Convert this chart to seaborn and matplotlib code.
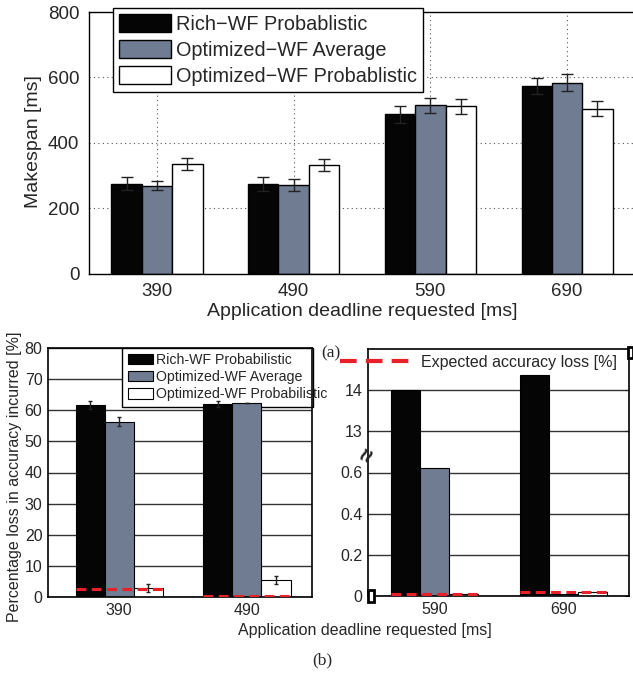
import numpy as np
import pandas as pd
import seaborn as sns
import matplotlib.pyplot as plt
from matplotlib.patches import Patch, Rectangle
from matplotlib.lines import Line2D
import matplotlib.transforms as mtransforms

sns.set_style('white')
plt.rcParams['font.family'] = ['Liberation Sans', 'DejaVu Sans']

# ---- data (a): makespan ----
deadlines_a = ['390', '490', '590', '690']
series_a = ['Rich\u2212WF Probablistic', 'Optimized\u2212WF Average', 'Optimized\u2212WF Probablistic']
rich_makespan = [274, 274, 487, 574]
avg_makespan = [269, 271, 514, 584]
prob_makespan = [335, 331, 511, 504]
rich_makespan_err = [20, 22, 26, 25]
avg_makespan_err = [15, 19, 24, 26]
prob_makespan_err = [17, 18, 24, 23]

# ---- data (b): accuracy loss ----
series_b = ['Rich-WF Probabilistic', 'Optimized-WF Average', 'Optimized-WF Probabilistic']
deadlines_low = ['390', '490']
rich_loss_low = [61.8, 62.0]
avg_loss_low = [56.3, 62.4]
prob_loss_low = [2.9, 5.6]
rich_loss_low_err = [1.3, 1.0]
avg_loss_low_err = [1.4, 0.0]
prob_loss_low_err = [1.3, 1.3]
expected_low = [2.7, 0.4]

deadlines_high = ['590', '690']
rich_loss_high = [14.0, 14.36]
avg_loss_high = [0.624, 0.01]
prob_loss_high = [0.01, 0.018]
expected_high = [0.01, 0.02]
break_ticks = [0, 0.2, 0.4, 0.6, 13, 14]

colors = ['#050505', '#6f7c92', '#ffffff']
red = '#e8202a'


def broken(v):
    # squeeze the broken y axis: 0..0.6 -> 0..3, 13..14 -> 4..5
    v = np.asarray(v, dtype=float)
    return np.where(v < 1, v / 0.2, v - 9)


def make_df(deadlines, series, cols):
    rows = []
    for s, vals in zip(series, cols):
        for d, v in zip(deadlines, vals):
            rows.append({'deadline': d, 'series': s, 'value': v})
    return pd.DataFrame(rows)


def bars_by_hue(ax, n_hue, n_x):
    ps = list(ax.patches)[:n_hue * n_x]
    return [ps[i * n_x:(i + 1) * n_x] for i in range(n_hue)]


fig = plt.figure(figsize=(6.33, 6.76), dpi=100)

# ================= (a) =================
ax1 = fig.add_axes([89 / 633, (676 - 273.5) / 676, 547 / 633, 261.5 / 676])
df_a = make_df(deadlines_a, series_a, [rich_makespan, avg_makespan, prob_makespan])
sns.barplot(data=df_a, x='deadline', y='value', hue='series', hue_order=series_a,
            palette=dict(zip(series_a, colors)), width=0.667, edgecolor='black',
            linewidth=1, errorbar=None, legend=False, saturation=1, ax=ax1)
groups = bars_by_hue(ax1, 3, 4)
for bars, errs in zip(groups, [rich_makespan_err, avg_makespan_err, prob_makespan_err]):
    xs = [p.get_x() + p.get_width() / 2 for p in bars]
    hs = [p.get_height() for p in bars]
    ax1.errorbar(xs, hs, yerr=errs, fmt='none', ecolor='#222222', elinewidth=1,
                 capsize=4, capthick=1, zorder=3)
ax1.set_xlim(-0.497, 3.504)
ax1.set_ylim(0, 800)
ax1.set_yticks([0, 200, 400, 600, 800])
ax1.set_axisbelow(True)
ax1.grid(True, linestyle=(0, (1, 3)), color='#555555', linewidth=0.8)
ax1.set_xlabel('')
ax1.set_ylabel('')
ax1.tick_params(direction='in', length=4, labelsize=13.5, pad=7)
for sp in ax1.spines.values():
    sp.set_color('black')
    sp.set_linewidth(1)
handles_a = [Patch(facecolor=c, edgecolor='black', linewidth=1) for c in colors]
leg = ax1.legend(handles_a, series_a, loc='upper left', bbox_to_anchor=(0.0439, 1.0153),
                 borderaxespad=0, fontsize=14.3, handlelength=2.6, handleheight=1.0,
                 labelspacing=0.33, borderpad=0.3, handletextpad=0.25,
                 fancybox=False, framealpha=1, edgecolor='black')
leg.get_frame().set_linewidth(1)
fig.text(362 / 633, 1 - 312 / 676, 'Application deadline requested [ms]', fontsize=14,
         ha='center', va='center')
fig.text(34 / 633, 1 - 142 / 676, 'Makespan [ms]', fontsize=14, rotation=90,
         ha='center', va='center')

# ================= (b) left =================
ax2 = fig.add_axes([48 / 633, (676 - 597) / 676, 264 / 633, 249 / 676])
df_low = make_df(deadlines_low, series_b, [rich_loss_low, avg_loss_low, prob_loss_low])
sns.barplot(data=df_low, x='deadline', y='value', hue='series', hue_order=series_b,
            palette=dict(zip(series_b, colors)), width=0.68, edgecolor='black',
            linewidth=0.8, errorbar=None, legend=False, saturation=1, ax=ax2)
groups = bars_by_hue(ax2, 3, 2)
for bars, errs in zip(groups, [rich_loss_low_err, avg_loss_low_err, prob_loss_low_err]):
    xs = [p.get_x() + p.get_width() / 2 for p in bars]
    hs = [p.get_height() for p in bars]
    ax2.errorbar(xs, hs, yerr=errs, fmt='none', ecolor='#222222', elinewidth=1,
                 capsize=1.5, capthick=1, zorder=3)
for i, e in enumerate(expected_low):
    x0 = groups[0][i].get_x()
    x1 = groups[2][i].get_x() + groups[2][i].get_width()
    ax2.hlines(e, x0, x1, colors=red, linewidth=2.2, linestyles=(0, (3.2, 1.8)), zorder=4)
ax2.set_xlim(-0.555, 1.508)
ax2.set_ylim(0, 80)
ax2.set_yticks(range(0, 81, 10))
ax2.set_axisbelow(True)
ax2.grid(True, axis='y', linestyle='-', color='#333333', linewidth=1)
ax2.set_xlabel('')
ax2.set_ylabel('')
ax2.tick_params(direction='in', length=3, labelsize=11.5, pad=4)
for sp in ax2.spines.values():
    sp.set_color('black')
    sp.set_linewidth(1.2)
ax2.add_patch(Rectangle((0.280, 0.763), 0.724, 0.237, transform=ax2.transAxes,
                        facecolor='white', edgecolor='black', linewidth=1,
                        zorder=0.9, clip_on=False))
handles_b = [Patch(facecolor=c, edgecolor='black', linewidth=0.8) for c in colors]
ax2.legend(handles_b, series_b, loc='upper left', bbox_to_anchor=(0.303, 0.98),
           borderaxespad=0, borderpad=0, fontsize=10.2, handlelength=1.76,
           handleheight=0.77, labelspacing=0.22, handletextpad=0.2, frameon=False)
fig.text(15 / 633, 1 - 477 / 676, 'Percentage loss in accuracy incurred [%]',
         fontsize=11.5, rotation=90, ha='center', va='center')

# ================= (b) right =================
ax3 = fig.add_axes([368 / 633, (676 - 596) / 676, 261 / 633, 247 / 676])
df_high = make_df(deadlines_high, series_b,
                  [broken(rich_loss_high), broken(avg_loss_high), broken(prob_loss_high)])
sns.barplot(data=df_high, x='deadline', y='value', hue='series', hue_order=series_b,
            palette=dict(zip(series_b, colors)), width=0.674, edgecolor='black',
            linewidth=0.8, errorbar=None, legend=False, saturation=1, ax=ax3)
groups = bars_by_hue(ax3, 3, 2)
for i, e in enumerate(broken(expected_high)):
    x0 = groups[0][i].get_x()
    x1 = groups[2][i].get_x() + groups[2][i].get_width()
    ax3.hlines(e, x0, x1, colors=red, linewidth=2.2, linestyles=(0, (3.2, 1.8)), zorder=4)
ax3.set_xlim(-0.519, 1.504)
ax3.set_ylim(0, 6)
ax3.set_yticks(broken(break_ticks))
ax3.set_yticklabels([f'{t:g}' for t in break_ticks])
ax3.set_axisbelow(True)
ax3.grid(True, axis='y', linestyle='-', color='#333333', linewidth=1)
ax3.set_xlabel('')
ax3.set_ylabel('')
ax3.tick_params(direction='in', length=3, labelsize=11.5, pad=4, right=True)
for sp in ax3.spines.values():
    sp.set_color('black')
    sp.set_linewidth(1.2)
trans = mtransforms.blended_transform_factory(ax3.transAxes, ax3.transData)
ax3.text(0.0, 3.42, '\u2248', transform=trans, rotation=65, fontsize=17,
         fontweight='bold', ha='center', va='center', clip_on=False, zorder=6)
red_handle = Line2D([], [], color=red, linewidth=3, linestyle=(0, (4, 2.2)))
ax3.legend([red_handle], ['Expected accuracy loss [%]'], loc='center left',
           bbox_to_anchor=(340 / 633, 1 - 362 / 676), bbox_transform=fig.transFigure,
           borderaxespad=0, borderpad=0, fontsize=11.5, handlelength=4.8,
           handletextpad=0.25, frameon=False)

# small selection markers
for (x, y, w, h) in [(628, 347, 5, 11), (368, 590, 6, 12)]:
    fig.patches.append(Rectangle((x / 633, 1 - (y + h) / 676), w / 633, h / 676,
                                 transform=fig.transFigure, facecolor='white',
                                 edgecolor='black', linewidth=2, zorder=10))

fig.text(365 / 633, 1 - 630 / 676, 'Application deadline requested [ms]', fontsize=11.5,
         ha='center', va='center')
fig.text(331 / 633, 1 - 353 / 676, '(a)', fontsize=12.5, family='Liberation Serif',
         ha='center', va='center')
fig.text(322 / 633, 1 - 660 / 676, '(b)', fontsize=12.5, family='Liberation Serif',
         ha='center', va='center')

fig.savefig('out.png', dpi=100)
